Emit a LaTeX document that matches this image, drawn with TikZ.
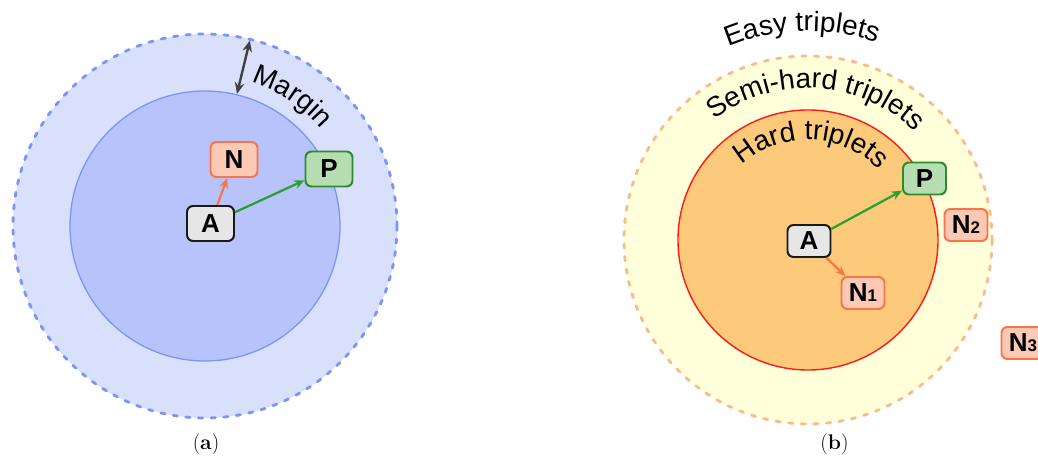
\documentclass[tikz,border=0pt]{standalone}
\usepackage{fontspec}
\newfontfamily\arialfont{Liberation Sans}
\usetikzlibrary{arrows.meta,decorations.text}
\definecolor{blueout}{HTML}{D9E0FC}
\definecolor{bluein}{HTML}{B7C3FA}
\definecolor{blueline}{HTML}{7B94F5}
\definecolor{yellowout}{HTML}{FFFFD9}
\definecolor{orangein}{HTML}{FDC97A}
\definecolor{orangeline}{HTML}{FDB98A}
\definecolor{redline}{HTML}{FF1A1A}
\definecolor{negfill}{HTML}{FCC9B5}
\definecolor{negline}{HTML}{F6764A}
\definecolor{posfill}{HTML}{B7DEB3}
\definecolor{posline}{HTML}{2E8B2A}
\definecolor{posarrow}{HTML}{2CA02C}
\definecolor{ancfill}{HTML}{E6E6E6}
\definecolor{marginclr}{HTML}{404040}
\newcommand{\curvefont}{\arialfont\fontsize{19.9}{24}\selectfont}
\newcommand{\subidx}[1]{{\fontsize{12}{14}\selectfont #1}}
\tikzset{
	box/.style={draw, rounded corners=0.15cm, line width=1.4pt, inner sep=0pt,
		font=\arialfont\bfseries\fontsize{18.5}{20}\selectfont,
		minimum width=1.175cm, minimum height=0.875cm},
	boxs/.style={box, minimum width=1.075cm, minimum height=0.8cm},
	ancbox/.style={fill=ancfill, draw=black!90},
	posbox/.style={fill=posfill, draw=posline},
	negbox/.style={fill=negfill, draw=negline},
	dashring/.style={line width=2pt, line cap=round, dash pattern=on 3pt off 6pt},
	curved/.style={decorate, decoration={text along path, text align=center, text={#1}}}
}
\begin{document}
\begin{tikzpicture}[line join=round, >={Stealth[length=2.6mm,width=2.2mm]}]
	\useasboundingbox (0,0) rectangle (25.95,11.425);
	\def \rA{4.8}
	\def \rB{3.375}
	\def \rC{4.6}
	\def \rD{3.25}
	\coordinate (o1) at (5.125,5.775);
	\coordinate (o2) at (20.2,5.425);
	% (a)
	\draw [dashring, draw=blueline, fill=blueout] (o1) circle (\rA);
	\draw [line width=0.9pt, draw=blueline, fill=bluein] (o1) circle (\rB);
	\coordinate (m1) at ([shift={(76.4:3.4)}]o1);
	\coordinate (m2) at ([shift={(76.4:4.77)}]o1);
	\draw [<->, line width=1.7pt, marginclr, >={Stealth[length=2.8mm,width=2.4mm]}] (m1) -- (m2);
	\path [curved={|\curvefont|Margin}] ([shift={(101:3.78)}]o1) arc [start angle=101, end angle=11, radius=3.78];
	\node [box, ancbox] (A) at (5.2625,5.8375) {A};
	\node [box, negbox] (N) at (5.85,7.4375) {N};
	\node [box, posbox] (P) at (8.225,7.2) {P};
	\draw [->, line width=1.6pt, negline] (A) -- (N);
	\draw [->, line width=1.6pt, posarrow] (A) -- (P);
	\node (capA) at (5.15,0.325) {\fontsize{15}{17}\selectfont(\textbf{a})};
	% (b)
	\draw [dashring, draw=orangeline, fill=yellowout] (o2) circle (\rC);
	\draw [line width=1pt, draw=redline, fill=orangein] (o2) circle (\rD);
	\path [curved={|\curvefont|Easy triplets}] ([shift={(141.6:5.225)}]o2) arc [start angle=141.6, end angle=41.6, radius=5.225];
	\path [curved={|\curvefont|Semi-hard triplets}] ([shift={(146.7:3.8)}]o2) arc [start angle=146.7, end angle=26.7, radius=3.8];
	\path [curved={|\curvefont|Hard triplets}] ([shift={(163:2.5)}]o2) arc [start angle=163, end angle=13, radius=2.5];
	\node [boxs, ancbox] (A2) at (20.225,5.4) {A};
	\node [boxs, posbox] (P2) at (23.1125,6.9625) {P};
	\node [boxs, negbox] (N1) at (21.575,4.1) {N\subidx{1}};
	\node [boxs, negbox] (N2) at (24.15,5.8) {N\subidx{2}};
	\node [boxs, negbox] (N3) at (25.575,2.85) {N\subidx{3}};
	\draw [->, line width=1.6pt, posarrow] (A2) -- (P2);
	\draw [->, line width=1.6pt, negline] (A2) -- (N1);
	\node (capB) at (20.86,0.325) {\fontsize{15}{17}\selectfont(\textbf{b})};
\end{tikzpicture}
\end{document}
